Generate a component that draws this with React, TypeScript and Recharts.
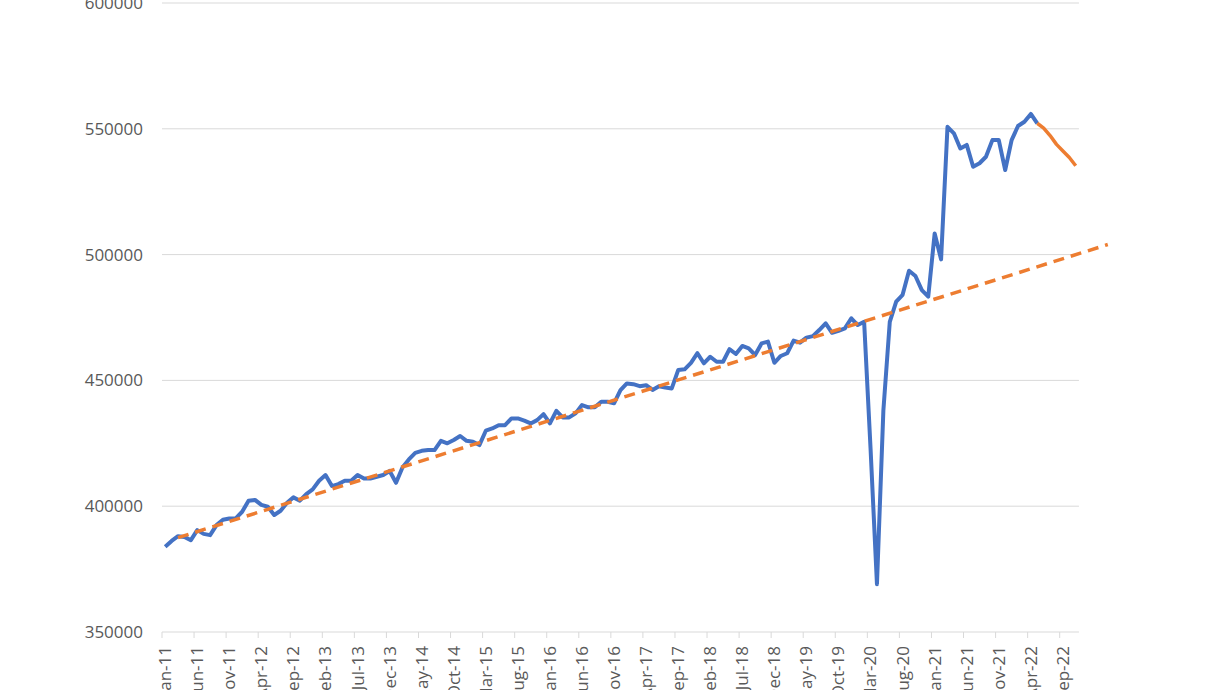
import { LineChart, Line, XAxis, YAxis, CartesianGrid } from 'recharts';

const MONTH_NAMES = ['Jan', 'Feb', 'Mar', 'Apr', 'May', 'Jun', 'Jul', 'Aug', 'Sep', 'Oct', 'Nov', 'Dec'];
const YEARS = ['11', '12', '13', '14', '15', '16', '17', '18', '19', '20', '21', '22'];

// Jan-11 .. Nov-22
const MONTHS = YEARS.flatMap(y => MONTH_NAMES.map(m => `${m}-${y}`)).slice(0, 143);

const TICK_LABELS = [
  'Jan-11', 'Jun-11', 'Nov-11', 'Apr-12', 'Sep-12', 'Feb-13', 'Jul-13', 'Dec-13',
  'May-14', 'Oct-14', 'Mar-15', 'Aug-15', 'Jan-16', 'Jun-16', 'Nov-16', 'Apr-17',
  'Sep-17', 'Feb-18', 'Jul-18', 'Dec-18', 'May-19', 'Oct-19', 'Mar-20', 'Aug-20',
  'Jan-21', 'Jun-21', 'Nov-21', 'Apr-22', 'Sep-22'
];

const Y_TICKS = [350000, 400000, 450000, 500000, 550000, 600000];

// actual values, Jan-11 .. May-22
const ACTUAL = [
  383900, 386200, 388100, 387800, 386500, 390500, 389000, 388500, 392500, 394600,
  395100, 395200, 397800, 402200, 402500, 400500, 399800, 396500, 398200, 401400,
  403500, 402200, 404800, 406700, 410100, 412400, 408000, 408800, 410100, 410100,
  412400, 411000, 411000, 411700, 412400, 414000, 409300, 415400, 418600, 421200,
  422000, 422300, 422300, 426000, 425000, 426300, 427900, 426000, 425600, 424300,
  430000, 430900, 432200, 432200, 434900, 434900, 434000, 432900, 434200, 436600,
  432900, 437900, 435300, 435300, 436900, 440200, 439300, 439300, 441500, 441500,
  440900, 446100, 448800, 448500, 447700, 448100, 446200, 447700, 447200, 446800,
  454100, 454400, 457000, 460800, 456800, 459400, 457400, 457400, 462400, 460500,
  463700, 462700, 460100, 464700, 465400, 457000, 459700, 460800, 465800, 465000,
  467000, 467600, 470000, 472700, 468900, 469700, 470700, 474700, 472000, 473300,
  423000, 369000, 438000, 473300, 481300, 484000, 493600, 491500, 485900, 483300,
  508400, 498100, 550800, 548200, 542200, 543600, 534900, 536300, 538900, 545500,
  545500, 533600, 545500, 551100, 552800, 555900, 552200
];

// forecast values, May-22 .. Nov-22
const FORECAST_START = 136;
const FORECAST = [552200, 550300, 547300, 543800, 541200, 538600, 535300];

// dashed trend line end points (month index, value)
const TREND_X = [2, 147];
const TREND_Y = [387500, 504000];

const data = MONTHS.map((label, i) => ({
  i,
  label,
  actual: i < ACTUAL.length ? ACTUAL[i] : null,
  forecast: i >= FORECAST_START ? FORECAST[i - FORECAST_START] : null,
}));

const trendData = TREND_X.map((x, k) => ({ i: x, trend: TREND_Y[k] }));

const TICK_INDEX = TICK_LABELS.map(l => MONTHS.indexOf(l));

const CHART_W = 1226;
const CHART_H = 690;
const AXIS_W = 162;
const MARGIN_RIGHT = 115;
const X_DOMAIN: [number, number] = [-0.5, 147.5];
const UNIT = (CHART_W - MARGIN_RIGHT - AXIS_W) / (X_DOMAIN[1] - X_DOMAIN[0]);
const TEXT = '#595959';
const GRID = '#d9d9d9';

const XTick = ({ x, y, payload }: any) => {
  const label = MONTHS[payload.value];
  const edge = x - UNIT / 2;
  return (
    <g>
      <line x1={edge} x2={edge} y1={y} y2={y + 6} stroke={GRID} strokeWidth={1} />
      <text
        x={x}
        y={y + 14}
        dy="0.35em"
        textAnchor="end"
        fill={TEXT}
        fontSize={17}
        transform={`rotate(-90, ${x}, ${y + 14})`}
      >
        {label}
      </text>
    </g>
  );
};

export default function App() {
  const plotW = MONTHS.length * UNIT;
  return (
    <div style={{ position: 'absolute', left: 0, top: 0, width: CHART_W, height: CHART_H, background: '#fff', fontFamily: '"Open Sans", sans-serif', overflow: 'hidden' }}>
      <LineChart width={CHART_W} height={CHART_H} data={data} margin={{ top: 3, right: MARGIN_RIGHT, bottom: 0, left: 0 }}>
        <CartesianGrid vertical={false} stroke={GRID} x={AXIS_W} width={plotW} />
        <XAxis
          type="number"
          dataKey="i"
          domain={X_DOMAIN}
          ticks={TICK_INDEX}
          interval={0}
          height={58}
          axisLine={false}
          tickLine={false}
          tickSize={0}
          tickMargin={0}
          tick={<XTick />}
        />
        <YAxis
          type="number"
          domain={[350000, 600000]}
          ticks={Y_TICKS}
          interval={0}
          width={AXIS_W}
          axisLine={false}
          tickLine={false}
          tickSize={0}
          tickMargin={19}
          tick={{ fill: TEXT, fontSize: 17 }}
        />
        <Line
          dataKey="actual"
          stroke="#4472C4"
          strokeWidth={4}
          dot={false}
          strokeLinejoin="round"
          isAnimationActive={false}
        />
        <Line
          dataKey="forecast"
          stroke="#ED7D31"
          strokeWidth={3.5}
          dot={false}
          strokeLinejoin="round"
          isAnimationActive={false}
        />
        <Line
          data={trendData}
          dataKey="trend"
          stroke="#ED7D31"
          strokeWidth={3.5}
          strokeDasharray="11 7"
          dot={false}
          isAnimationActive={false}
        />
      </LineChart>
    </div>
  );
}
